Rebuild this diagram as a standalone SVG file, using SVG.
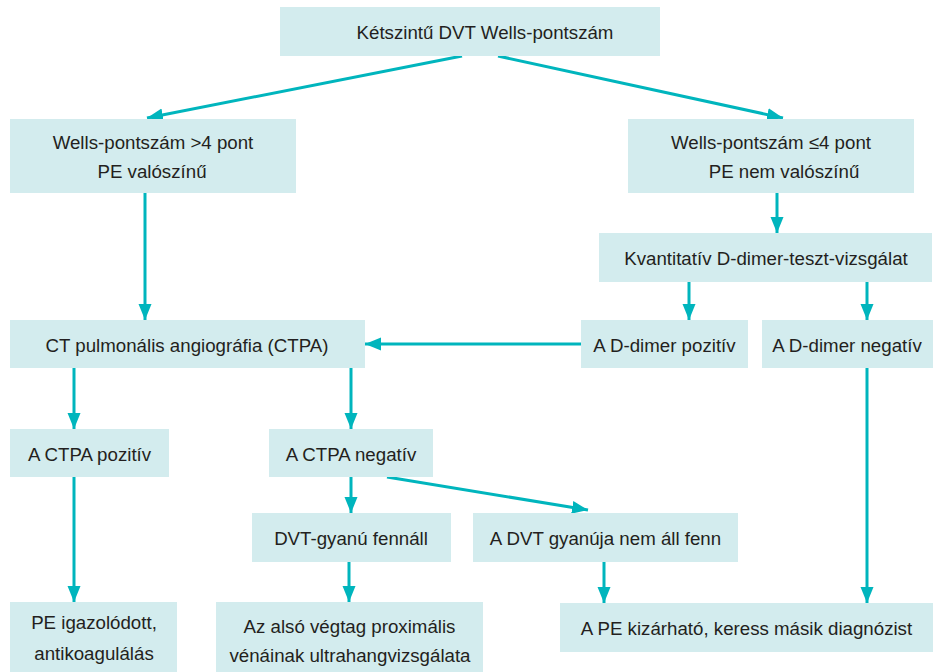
<svg xmlns="http://www.w3.org/2000/svg" width="938" height="672" viewBox="0 0 938 672">
<defs>
<style>
.box{fill:#d3ecee;}
.t{font-family:"Liberation Sans",Arial,sans-serif;font-size:18.7px;fill:#231f20;text-anchor:middle;}
.c{stroke:#00b5bd;stroke-width:3;fill:none;marker-end:url(#ah);}
</style>
<marker id="ah" markerUnits="userSpaceOnUse" markerWidth="17" markerHeight="14" refX="16" refY="6.5" orient="auto">
<path d="M0,0 L16,6.5 L0,13 z" fill="#00b5bd"/>
</marker>
</defs>
<rect width="938" height="672" fill="#ffffff"/>
<g id="connectors">
<path class="c" d="M462,56 L147,118"/>
<path class="c" d="M498,56 L783,118"/>
<path class="c" d="M145,193 L145,320"/>
<path class="c" d="M777,193 L777,233"/>
<path class="c" d="M689,282 L689,320"/>
<path class="c" d="M867,282 L867,320"/>
<path class="c" d="M581,344 L365,344"/>
<path class="c" d="M867,368 L867,603"/>
<path class="c" d="M74,368 L74,429"/>
<path class="c" d="M351,368 L351,429"/>
<path class="c" d="M74,477 L74,602"/>
<path class="c" d="M351,477 L351,513"/>
<path class="c" d="M387,477 L588,510"/>
<path class="c" d="M349,562 L349,602"/>
<path class="c" d="M604,562 L604,603"/>
</g>
<g id="n-top"><rect class="box" x="280" y="7" width="380" height="49"/><text class="t" x="485" y="39">Kétszintű DVT Wells-pontszám</text></g>
<g id="n-wells-high"><rect class="box" x="10" y="119" width="286" height="74"/><text class="t" x="153" y="149">Wells-pontszám &gt;4 pont</text><text class="t" x="152" y="178">PE valószínű</text></g>
<g id="n-wells-low"><rect class="box" x="628" y="119" width="286" height="74"/><text class="t" x="771" y="149">Wells-pontszám ≤4 pont</text><text class="t" x="784" y="178">PE nem valószínű</text></g>
<g id="n-ddimer-test"><rect class="box" x="599" y="233" width="333" height="49"/><text class="t" x="766" y="265">Kvantitatív D-dimer-teszt-vizsgálat</text></g>
<g id="n-ctpa"><rect class="box" x="10" y="320" width="355" height="48"/><text class="t" x="187" y="352">CT pulmonális angiográfia (CTPA)</text></g>
<g id="n-dd-pos"><rect class="box" x="581" y="320" width="167" height="48"/><text class="t" x="664.5" y="352">A D-dimer pozitív</text></g>
<g id="n-dd-neg"><rect class="box" x="762" y="320" width="171" height="48"/><text class="t" x="847" y="352">A D-dimer negatív</text></g>
<g id="n-ctpa-pos"><rect class="box" x="10" y="429" width="159" height="48"/><text class="t" x="89.5" y="461">A CTPA pozitív</text></g>
<g id="n-ctpa-neg"><rect class="box" x="269" y="429" width="164" height="48"/><text class="t" x="351" y="461">A CTPA negatív</text></g>
<g id="n-dvt-yes"><rect class="box" x="252" y="513" width="199" height="49"/><text class="t" x="351" y="545">DVT-gyanú fennáll</text></g>
<g id="n-dvt-no"><rect class="box" x="473" y="513" width="265" height="49"/><text class="t" x="605.5" y="545">A DVT gyanúja nem áll fenn</text></g>
<g id="n-pe-confirmed"><rect class="box" x="10" y="602" width="167" height="70"/><text class="t" x="94" y="629">PE igazolódott,</text><text class="t" x="94" y="660">antikoagulálás</text></g>
<g id="n-ultrasound"><rect class="box" x="216" y="602" width="267" height="70"/><text class="t" x="349.5" y="633">Az alsó végtag proximális</text><text class="t" x="350" y="662">vénáinak ultrahangvizsgálata</text></g>
<g id="n-pe-excluded"><rect class="box" x="560" y="603" width="373" height="49"/><text class="t" x="746.5" y="635">A PE kizárható, keress másik diagnózist</text></g>
</svg>
